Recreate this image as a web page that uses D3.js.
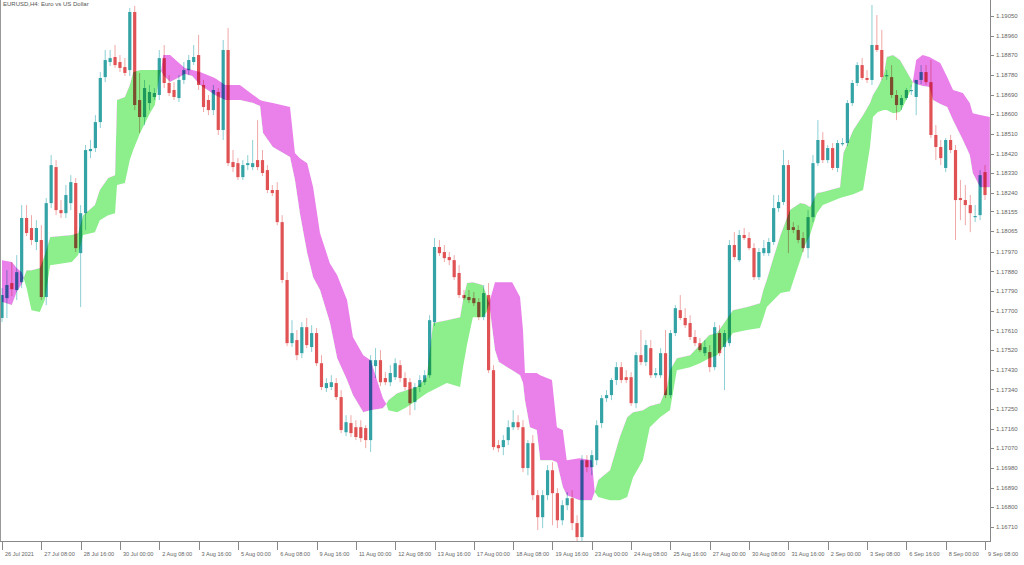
<!DOCTYPE html>
<html><head><meta charset="utf-8">
<script src="https://cdn.jsdelivr.net/npm/d3@7"></script>
<style>html,body{margin:0;padding:0;background:#fff;}svg{display:block;font-family:"Liberation Sans",Arial,sans-serif;}</style>
</head><body><svg id="c" width="1024" height="565"></svg>
<script>
const title = "EURUSD,H4:  Euro vs US Dollar";
const xLabels = ["26 Jul 2021","27 Jul 08:00","28 Jul 16:00","30 Jul 00:00","2 Aug 08:00","3 Aug 16:00","5 Aug 00:00","6 Aug 08:00","9 Aug 16:00","11 Aug 00:00","12 Aug 08:00","13 Aug 16:00","17 Aug 00:00","18 Aug 08:00","19 Aug 16:00","23 Aug 00:00","24 Aug 08:00","25 Aug 16:00","27 Aug 00:00","30 Aug 08:00","31 Aug 16:00","2 Sep 00:00","3 Sep 08:00","6 Sep 16:00","8 Sep 00:00","9 Sep 08:00"];
const xLabelBar = [0,8,16,24,32,40,48,56,64,72,80,88,96,104,112,120,128,136,144,152,160,168,176,184,192,200];
const yTicks = [1.19050,1.18960,1.18870,1.18780,1.18690,1.18600,1.18510,1.18420,1.18330,1.18240,1.18155,1.18065,1.17970,1.17880,1.17790,1.17700,1.17610,1.17520,1.17430,1.17340,1.17250,1.17160,1.17070,1.16980,1.16890,1.16800,1.16710];

const open = [1.17667,1.17758,1.17827,1.17795,1.17831,1.18125,1.18079,1.18015,1.18024,1.17763,1.18193,1.18358,1.18161,1.18147,1.18193,1.18285,1.17964,1.18147,1.18431,1.18445,1.18564,1.18770,1.18839,1.18862,1.18839,1.18816,1.18802,1.19068,1.18665,1.18587,1.18651,1.18679,1.18688,1.18857,1.18743,1.18711,1.18674,1.18757,1.18802,1.18839,1.18871,1.18734,1.18665,1.18619,1.18702,1.18528,1.18894,1.18381,1.18376,1.18312,1.18367,1.18358,1.18390,1.18390,1.18344,1.18253,1.18253,1.18106,1.17841,1.17552,1.17566,1.17506,1.17625,1.17534,1.17598,1.17460,1.17346,1.17351,1.17369,1.17305,1.17144,1.17186,1.17167,1.17167,1.17163,1.17108,1.17447,1.17474,1.17392,1.17373,1.17396,1.17451,1.17392,1.17373,1.17282,1.17351,1.17373,1.17405,1.17648,1.17992,1.17969,1.17946,1.17932,1.17873,1.17772,1.17763,1.17758,1.17740,1.17671,1.17772,1.17428,1.17085,1.17076,1.17108,1.17167,1.17190,1.17167,1.16980,1.17094,1.16856,1.16755,1.16856,1.16970,1.16865,1.16741,1.16810,1.16842,1.16728,1.16664,1.17016,1.16984,1.17016,1.17186,1.17300,1.17314,1.17383,1.17442,1.17396,1.17396,1.17277,1.17497,1.17465,1.17529,1.17405,1.17405,1.17506,1.17314,1.17598,1.17703,1.17667,1.17644,1.17580,1.17552,1.17506,1.17511,1.17442,1.17598,1.17534,1.17552,1.18001,1.17932,1.18047,1.18033,1.17987,1.17854,1.17964,1.17964,1.18015,1.18170,1.18198,1.18367,1.18083,1.18070,1.18033,1.17987,1.18129,1.18376,1.18482,1.18390,1.18445,1.18354,1.18468,1.18468,1.18651,1.18743,1.18825,1.18766,1.18757,1.18917,1.18894,1.18775,1.18770,1.18688,1.18642,1.18674,1.18706,1.18679,1.18757,1.18793,1.18747,1.18505,1.18450,1.18354,1.18482,1.18436,1.18216,1.18207,1.18184,1.18129,1.18138,1.18335];
const high = [1.17804,1.17886,1.17923,1.17955,1.18184,1.18184,1.18138,1.18115,1.18092,1.18216,1.18413,1.18390,1.18207,1.18276,1.18321,1.18308,1.18184,1.18459,1.18482,1.18596,1.18793,1.18894,1.18894,1.18917,1.18871,1.18857,1.19086,1.19096,1.18789,1.18757,1.18734,1.18720,1.18894,1.18917,1.18779,1.18747,1.18779,1.18839,1.18871,1.18917,1.18963,1.18757,1.18688,1.18734,1.18720,1.18940,1.18995,1.18436,1.18399,1.18390,1.18413,1.18482,1.18573,1.18436,1.18367,1.18276,1.18289,1.18138,1.17877,1.17657,1.17612,1.17648,1.17667,1.17634,1.17621,1.17497,1.17392,1.17405,1.17392,1.17337,1.17222,1.17222,1.17199,1.17199,1.17176,1.17497,1.17529,1.17520,1.17419,1.17451,1.17483,1.17474,1.17419,1.17392,1.17369,1.17405,1.17428,1.17680,1.18033,1.18024,1.18001,1.17969,1.17955,1.17909,1.17795,1.17795,1.17786,1.17758,1.17818,1.17827,1.17451,1.17108,1.17131,1.17199,1.17245,1.17222,1.17199,1.17108,1.17131,1.16879,1.16879,1.16993,1.17007,1.16888,1.16833,1.16870,1.16879,1.16764,1.17039,1.17039,1.17062,1.17199,1.17314,1.17337,1.17392,1.17465,1.17465,1.17428,1.17419,1.17511,1.17612,1.17566,1.17566,1.17438,1.17529,1.17612,1.17612,1.17726,1.17772,1.17712,1.17680,1.17612,1.17575,1.17566,1.17543,1.17648,1.17634,1.17612,1.18024,1.18060,1.18070,1.18079,1.18060,1.18010,1.17987,1.18024,1.18033,1.18230,1.18230,1.18436,1.18390,1.18106,1.18092,1.18060,1.18161,1.18413,1.18573,1.18518,1.18459,1.18468,1.18482,1.18491,1.18665,1.18757,1.18839,1.18857,1.18802,1.19100,1.19054,1.18986,1.18802,1.18825,1.18711,1.18688,1.18720,1.18734,1.18757,1.18825,1.18825,1.18848,1.18550,1.18482,1.18491,1.18505,1.18459,1.18299,1.18276,1.18230,1.18184,1.18344,1.18367];
const low = [1.17648,1.17667,1.17767,1.17749,1.17804,1.18042,1.18001,1.17978,1.17749,1.17726,1.18170,1.18138,1.18125,1.18125,1.18161,1.17969,1.17717,1.18070,1.18399,1.18427,1.18537,1.18747,1.18821,1.18812,1.18793,1.18775,1.18775,1.18619,1.18514,1.18550,1.18619,1.18665,1.18665,1.18720,1.18683,1.18665,1.18656,1.18738,1.18779,1.18825,1.18711,1.18610,1.18596,1.18596,1.18505,1.18482,1.18363,1.18335,1.18299,1.18299,1.18344,1.18344,1.18344,1.18317,1.18239,1.18225,1.18092,1.17827,1.17538,1.17534,1.17474,1.17483,1.17529,1.17511,1.17447,1.17337,1.17328,1.17337,1.17291,1.17140,1.17126,1.17122,1.17108,1.17099,1.17071,1.17053,1.17392,1.17355,1.17360,1.17355,1.17383,1.17373,1.17337,1.17222,1.17245,1.17328,1.17360,1.17392,1.17630,1.17951,1.17923,1.17909,1.17841,1.17758,1.17749,1.17735,1.17722,1.17657,1.17657,1.17415,1.17062,1.17053,1.17039,1.17085,1.17154,1.17154,1.16961,1.16947,1.16833,1.16696,1.16705,1.16833,1.16718,1.16705,1.16718,1.16787,1.16696,1.16627,1.16627,1.16961,1.16947,1.16993,1.17163,1.17282,1.17291,1.17360,1.17369,1.17369,1.17264,1.17254,1.17451,1.17447,1.17392,1.17392,1.17392,1.17300,1.17300,1.17584,1.17657,1.17621,1.17566,1.17538,1.17511,1.17493,1.17419,1.17428,1.17493,1.17337,1.17538,1.17932,1.17923,1.18024,1.17978,1.17841,1.17841,1.17951,1.17951,1.18001,1.18152,1.18184,1.17964,1.18056,1.18010,1.17969,1.17941,1.18106,1.18363,1.18376,1.18376,1.18344,1.18335,1.18454,1.18454,1.18638,1.18729,1.18757,1.18743,1.18734,1.18885,1.18757,1.18757,1.18674,1.18573,1.18619,1.18665,1.18688,1.18596,1.18738,1.18734,1.18491,1.18390,1.18367,1.18335,1.18422,1.18024,1.18115,1.18092,1.18060,1.18106,1.18115,1.18207];
const close = [1.17772,1.17818,1.17799,1.17877,1.18125,1.18056,1.18024,1.18079,1.17763,1.18193,1.18367,1.18161,1.18147,1.18230,1.18289,1.17987,1.18147,1.18436,1.18441,1.18564,1.18766,1.18848,1.18857,1.18825,1.18812,1.18789,1.19068,1.18642,1.18587,1.18720,1.18702,1.18697,1.18857,1.18743,1.18697,1.18679,1.18757,1.18802,1.18848,1.18862,1.18734,1.18633,1.18619,1.18711,1.18528,1.18894,1.18376,1.18358,1.18312,1.18367,1.18376,1.18376,1.18358,1.18331,1.18253,1.18239,1.18106,1.17841,1.17552,1.17598,1.17497,1.17625,1.17543,1.17598,1.17460,1.17351,1.17369,1.17373,1.17305,1.17154,1.17190,1.17140,1.17122,1.17117,1.17108,1.17474,1.17474,1.17373,1.17373,1.17415,1.17460,1.17392,1.17351,1.17277,1.17351,1.17383,1.17405,1.17657,1.17992,1.17964,1.17941,1.17932,1.17854,1.17772,1.17758,1.17749,1.17735,1.17671,1.17781,1.17428,1.17076,1.17071,1.17108,1.17167,1.17190,1.17167,1.16980,1.17094,1.16856,1.16755,1.16856,1.16970,1.16865,1.16741,1.16810,1.16842,1.16728,1.16664,1.17016,1.16984,1.17039,1.17176,1.17300,1.17314,1.17383,1.17442,1.17383,1.17383,1.17277,1.17497,1.17465,1.17543,1.17405,1.17415,1.17506,1.17314,1.17598,1.17712,1.17667,1.17634,1.17580,1.17552,1.17520,1.17534,1.17442,1.17625,1.17506,1.17598,1.18001,1.17946,1.18047,1.18033,1.17987,1.17854,1.17969,1.17987,1.18015,1.18170,1.18198,1.18367,1.18070,1.18070,1.18024,1.17987,1.18129,1.18376,1.18482,1.18390,1.18445,1.18354,1.18468,1.18468,1.18651,1.18743,1.18825,1.18766,1.18757,1.18917,1.18894,1.18770,1.18779,1.18688,1.18642,1.18674,1.18711,1.18711,1.18757,1.18793,1.18747,1.18505,1.18450,1.18399,1.18482,1.18436,1.18207,1.18207,1.18184,1.18147,1.18134,1.18321,1.18230];

const cloudBar = [0,2,3,4,4.4,5,6,7.7,8.7,9.8,14.2,15.5,16.5,18.9,19.9,21.6,23,23.4,25,26,26.7,28.1,30.1,31.1,32.1,32.4,32.8,34.2,35.8,37.2,38.7,40.3,43.3,45.4,48.4,51.1,52.5,53.1,55.1,58.6,59.6,60.6,62.1,63.3,64.7,66.7,68.2,70.2,71.4,73.5,75,77.5,78.2,78.6,80.4,82.4,84.4,86.4,87.7,90.5,93.2,93.8,94.6,95.8,97.8,98.6,99.1,100.3,101.1,103.8,105.4,106,106.4,107.4,108.8,109.5,111.9,112.9,114.1,114.9,117.5,120,120.6,121.3,123.7,125.7,127.2,128.4,130.4,131.8,133.9,135.3,135.9,137.3,140,142,143.9,145.5,148.7,151.6,154.2,154.9,155.6,157,158.4,160.3,162.4,163.4,164.4,165.8,167,170.5,171.2,173.2,175.2,176.6,177.2,178.2,179.4,180,181.3,182.7,183.3,184.7,185.3,186,187.3,188.7,189.4,190.9,192.3,193.5,195.5,196.9,197.5,199,201];
const spanA = [1.17740,1.17726,1.17786,1.17822,1.17850,1.17886,1.17886,1.17896,1.17955,1.18038,1.18047,1.18056,1.18138,1.18184,1.18253,1.18308,1.18321,1.18665,1.18679,1.18734,1.18793,1.18802,1.18802,1.18802,1.18802,1.18798,1.18779,1.18747,1.18766,1.18784,1.18775,1.18734,1.18688,1.18665,1.18665,1.18651,1.18638,1.18514,1.18450,1.18404,1.18299,1.18147,1.17964,1.17854,1.17795,1.17648,1.17483,1.17383,1.17314,1.17236,1.17245,1.17254,1.17273,1.17291,1.17323,1.17337,1.17351,1.17396,1.17644,1.17657,1.17671,1.17749,1.17827,1.17831,1.17818,1.17772,1.17735,1.17520,1.17465,1.17428,1.17405,1.17369,1.17291,1.17167,1.17154,1.17016,1.17016,1.17007,1.16893,1.16856,1.16833,1.16833,1.16870,1.16925,1.16970,1.17122,1.17213,1.17236,1.17245,1.17264,1.17277,1.17351,1.17428,1.17483,1.17497,1.17543,1.17589,1.17598,1.17703,1.17717,1.17735,1.17795,1.17841,1.17946,1.18047,1.18161,1.18193,1.18189,1.18175,1.18239,1.18244,1.18266,1.18422,1.18528,1.18596,1.18651,1.18688,1.18725,1.18779,1.18862,1.18871,1.18848,1.18825,1.18770,1.18747,1.18738,1.18729,1.18725,1.18665,1.18647,1.18633,1.18573,1.18482,1.18413,1.18331,1.18266,1.18266];
const spanB = [1.17932,1.17923,1.17896,1.17877,1.17850,1.17804,1.17703,1.17694,1.17749,1.17909,1.17923,1.17955,1.18047,1.18060,1.18115,1.18138,1.18147,1.18276,1.18285,1.18390,1.18436,1.18514,1.18605,1.18642,1.18784,1.18798,1.18871,1.18871,1.18839,1.18812,1.18802,1.18793,1.18766,1.18734,1.18734,1.18688,1.18665,1.18660,1.18651,1.18633,1.18422,1.18399,1.18376,1.18266,1.18056,1.17918,1.17863,1.17749,1.17580,1.17497,1.17474,1.17300,1.17273,1.17245,1.17236,1.17259,1.17291,1.17323,1.17337,1.17369,1.17351,1.17442,1.17543,1.17671,1.17671,1.17694,1.17735,1.17831,1.17831,1.17831,1.17763,1.17612,1.17415,1.17415,1.17415,1.17405,1.17383,1.17167,1.17154,1.17016,1.17025,1.17016,1.16870,1.16847,1.16833,1.16833,1.16847,1.16938,1.17016,1.17167,1.17213,1.17236,1.17245,1.17428,1.17442,1.17460,1.17483,1.17497,1.17598,1.17612,1.17621,1.17667,1.17717,1.17749,1.17781,1.17790,1.17932,1.18001,1.18047,1.18147,1.18184,1.18216,1.18221,1.18234,1.18253,1.18450,1.18587,1.18610,1.18619,1.18619,1.18605,1.18610,1.18633,1.18702,1.18747,1.18848,1.18871,1.18862,1.18853,1.18835,1.18770,1.18711,1.18697,1.18651,1.18605,1.18596,1.18587];

const plotR = 990, plotB = 541;
const x = d3.scaleLinear().domain([0, 200]).range([2, 985]);
const y = d3.scaleLinear().domain([1.16646, 1.19123]).range([plotB, 0]);
const svg = d3.select('#c');
const defs = svg.append('defs');
defs.append('clipPath').attr('id','plot').append('rect').attr('x',0).attr('y',0).attr('width',plotR).attr('height',plotB);

const cloud = cloudBar.map((b,k)=>({b, a: spanA[k], s: spanB[k]}));
const band = d3.area().x(d=>x(d.b)).y0(d=>y(d.a)).y1(d=>y(d.s));
defs.append('clipPath').attr('id','aboveA').append('path')
  .attr('d', d3.area().x(d=>x(d.b)).y0(0).y1(d=>y(d.a))(cloud));
defs.append('clipPath').attr('id','belowA').append('path')
  .attr('d', d3.area().x(d=>x(d.b)).y0(d=>y(d.a)).y1(plotB)(cloud));

const gPlot = svg.append('g').attr('clip-path','url(#plot)');
gPlot.append('g').attr('clip-path','url(#belowA)').append('path').attr('d', band(cloud)).attr('fill','#8cef8c');
gPlot.append('g').attr('clip-path','url(#aboveA)').append('path').attr('d', band(cloud)).attr('fill','#ea80ea');

const bars = open.map((o,i)=>({i, o, h: high[i], l: low[i], c: close[i]}));
const gC = gPlot.append('g').style('mix-blend-mode','multiply');
gC.selectAll('line.w').data(bars).join('line')
  .attr('x1', d=>x(d.i)).attr('x2', d=>x(d.i))
  .attr('y1', d=>y(d.h)).attr('y2', d=>y(d.l))
  .attr('stroke', d=> d.c >= d.o ? '#8ccfd4' : '#f0a8a8').attr('stroke-width',1);
gC.selectAll('rect.b').data(bars).join('rect')
  .attr('x', d=>x(d.i)-1.6).attr('width',3.2)
  .attr('y', d=>y(Math.max(d.o,d.c)))
  .attr('height', d=>Math.max(1.2, Math.abs(y(d.o)-y(d.c))))
  .attr('fill', d=> d.c >= d.o ? '#34a3a6' : '#e05254');

// frame
svg.append('line').attr('x1',0.5).attr('x2',0.5).attr('y1',0).attr('y2',plotB).attr('stroke','#999');
svg.append('line').attr('x1',0).attr('x2',plotR).attr('y1',plotB+0.5).attr('y2',plotB+0.5).attr('stroke','#888');
svg.append('line').attr('x1',plotR+0.5).attr('x2',plotR+0.5).attr('y1',0).attr('y2',plotB+1).attr('stroke','#888');

// right axis
const gy = svg.append('g');
gy.selectAll('line').data(yTicks).join('line')
  .attr('x1',plotR).attr('x2',plotR+4).attr('y1',d=>Math.round(y(d))+0.5).attr('y2',d=>Math.round(y(d))+0.5).attr('stroke','#888');
gy.selectAll('text').data(yTicks).join('text')
  .attr('x',plotR+6).attr('y',d=>y(d)).attr('dy','0.35em')
  .attr('font-size',6).attr('fill','#666').text(d=>d3.format('.5f')(d));

// bottom axis
const gx = svg.append('g');
gx.selectAll('line').data(xLabelBar).join('line')
  .attr('x1',d=>Math.round(x(d))+0.5).attr('x2',d=>Math.round(x(d))+0.5)
  .attr('y1',plotB+1).attr('y2',plotB+9).attr('stroke','#888');
gx.selectAll('text').data(xLabelBar).join('text')
  .attr('x',d=>x(d)+3).attr('y',plotB+15)
  .attr('font-size',5.6).attr('fill','#666').text((d,k)=>xLabels[k]);

svg.append('text').attr('x',3).attr('y',6).attr('font-size',6).attr('fill','#555').text(title);
</script></body></html>
